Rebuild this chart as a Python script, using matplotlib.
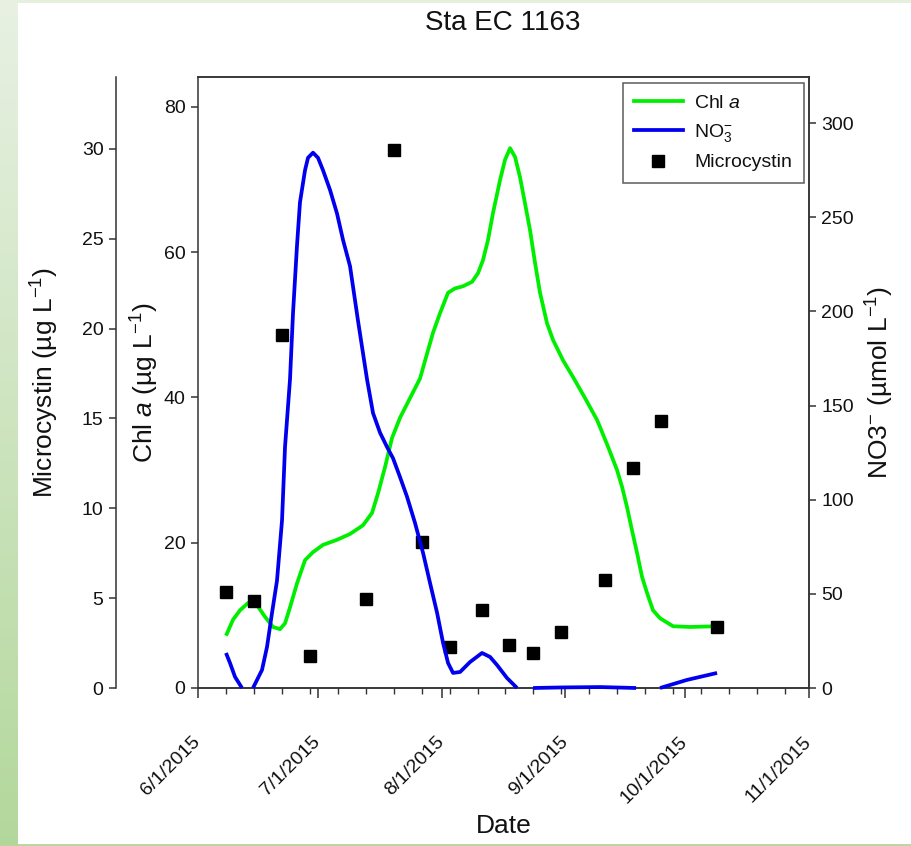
import numpy as np
import pandas as pd
import matplotlib
matplotlib.use("Agg")
import matplotlib.pyplot as plt
import matplotlib.dates as mdates
from matplotlib.patches import Rectangle
from matplotlib.lines import Line2D
from matplotlib.ticker import FuncFormatter

plt.rcParams['font.family'] = ['Liberation Sans', 'DejaVu Sans']
plt.rcParams['mathtext.fontset'] = 'custom'
plt.rcParams['mathtext.rm'] = 'Liberation Sans'
plt.rcParams['mathtext.it'] = 'Liberation Sans:italic'
plt.rcParams['mathtext.bf'] = 'Liberation Sans:bold'

# ---------------- data ----------------
season_start = "2015-06-01"

# Chl a curve (days after 6/1/2015, ug/L)
chl_day = [7.01, 8.77, 10.52, 12.52, 14.78, 16.78, 18.78, 20.54, 21.79, 23.04, 24.79,
           26.80, 28.80, 31.30, 34.81, 38.07, 41.32, 43.58, 45.08, 46.83, 48.58, 50.59,
           53.09, 55.60, 57.60, 58.85, 60.61, 62.61, 64.36, 66.37, 68.62, 70.12, 71.37,
           72.63, 73.88, 75.63, 76.88, 78.14, 79.39, 80.64, 81.89, 83.15, 84.40, 85.65,
           87.40, 88.91, 91.41, 93.91, 96.92, 99.92, 100.68, 102.68, 104.93, 106.18,
           107.43, 108.68, 109.94, 111.19, 112.44, 113.94, 115.70, 118.96, 123.22, 129.98]
chl_val = [7.2, 9.4, 10.7, 11.7, 11.4, 9.8, 8.4, 8.1, 8.9, 11.1, 14.4,
           17.6, 18.7, 19.7, 20.4, 21.2, 22.4, 24.1, 26.8, 30.4, 34.4, 37.2,
           39.9, 42.6, 46.5, 48.9, 51.6, 54.4, 55.0, 55.3, 55.9, 57.1, 58.9,
           61.7, 65.4, 69.9, 72.7, 74.3, 73.1, 70.3, 66.7, 63.0, 58.5, 54.4,
           50.2, 47.9, 45.1, 42.8, 39.9, 36.9, 35.9, 33.2, 30.0, 27.7,
           24.9, 21.7, 18.6, 15.3, 13.1, 10.7, 9.6, 8.5, 8.4, 8.5]

# NO3- curve (days after 6/1/2015, umol/L); NaN = below zero (not drawn)
no3_day = [7.01, 8.01, 9.27, 11.02, 12.40, 13.77, 16.03, 17.28, 18.53, 19.78, 21.04,
           21.79, 23.04, 23.79, 24.79, 25.54, 26.80, 27.55, 28.80, 30.05, 31.30, 33.06,
           34.81, 36.31, 38.07, 40.07, 42.32, 43.83, 45.58, 47.33, 48.84, 50.59, 52.34,
           54.35, 56.35, 58.10, 59.86, 61.36, 62.61, 63.86, 65.62, 68.12, 71.12, 73.13,
           74.88, 77.38, 79.89, 81.90, 83.90, 91.16, 100.70, 109.70, 112.70, 115.70,
           122.46, 129.98]
no3_val = [18.6, 13.3, 5.9, 0.0, np.nan, 0.0, 9.6, 21.8, 39.8, 57.0, 89.0,
           128.0, 164.0, 199.0, 235.0, 258.0, 275.0, 281.6, 284.3, 281.6, 275.0, 264.5,
           252.0, 238.0, 224.0, 195.0, 164.0, 146.0, 135.6, 128.0, 122.0, 112.0, 101.6,
           87.6, 71.8, 55.8, 40.0, 24.0, 13.3, 8.0, 8.5, 13.8, 18.6, 16.5,
           12.2, 5.3, 0.0, np.nan, 0.0, 0.3, 0.5, 0.0, np.nan, 0.0,
           4.3, 8.0]

# Microcystin samples (ug/L)
mc_date = ["2015-06-08", "2015-06-15", "2015-06-22", "2015-06-29", "2015-07-13",
           "2015-07-20", "2015-07-27", "2015-08-03", "2015-08-11", "2015-08-18",
           "2015-08-24", "2015-08-31", "2015-09-11", "2015-09-18", "2015-09-25",
           "2015-10-09"]
mc_val = [5.33, 4.83, 19.64, 1.78, 4.94, 29.94, 8.12, 2.28, 4.33, 2.39,
          1.94, 3.11, 6.01, 12.24, 14.86, 3.39]

x_ticks = ["2015-06-01", "2015-07-01", "2015-08-01", "2015-09-01", "2015-10-01", "2015-11-01"]
chl_ticks = [0, 20, 40, 60, 80]
mc_ticks = [0, 5, 10, 15, 20, 25, 30]
no3_ticks = [0, 50, 100, 150, 200, 250, 300]

# ---------------- figure ----------------
W, H = 912, 846
fig = plt.figure(figsize=(W / 100, H / 100), dpi=100, facecolor='white')

# background decorations
bg = fig.add_axes([0, 0, 18 / W, 1], zorder=-5)
grad = np.linspace(0, 1, 256)[:, None]
top_c = np.array([0.91, 0.945, 0.89])
bot_c = np.array([0.70, 0.845, 0.61])
img = (top_c[None, None, :] * (1 - grad[:, :, None]) + bot_c[None, None, :] * grad[:, :, None])
bg.imshow(img, aspect='auto', extent=[0, 1, 0, 1])
bg.axis('off')
fig.patches.append(Rectangle((18 / W, 1 - 3 / H), 1, 3 / H, transform=fig.transFigure,
                             facecolor='#e6f0dd', edgecolor='none', zorder=-5))
fig.patches.append(Rectangle((18 / W, 0), 1, 2.5 / H, transform=fig.transFigure,
                             facecolor='#b8d9a3', edgecolor='none', zorder=-5))

left, right, bottom, top = 198 / W, 809 / W, 1 - 688 / H, 1 - 77 / H
ax = fig.add_axes([left, bottom, right - left, top - bottom])
ax_mc = ax.twinx()
ax_no3 = ax.twinx()

spine_c = '#333333'
green, blue = '#00ee00', '#0000ee'
lw = 2.7
start = pd.Timestamp(season_start)
chl_x = [start + pd.Timedelta(days=d) for d in chl_day]
no3_x = [start + pd.Timedelta(days=d) for d in no3_day]
mc_x = pd.to_datetime(mc_date)

ax.plot(chl_x, chl_val, color=green, lw=lw, solid_capstyle='butt',
        solid_joinstyle='round', zorder=3)
ax_no3.plot(no3_x, no3_val, color=blue, lw=lw, solid_capstyle='butt',
            solid_joinstyle='round', clip_on=False, zorder=3)
ax_mc.plot(mc_x, mc_val, linestyle='none', marker='s', markersize=8.5, color='black', zorder=4)

# axes limits
ax.set_xlim(pd.Timestamp(x_ticks[0]), pd.Timestamp(x_ticks[-1]))
ax.set_ylim(0, 84.1)
ax_mc.set_ylim(0, 34.0)
ax_no3.set_ylim(0, 324.5)

# x axis
ax.set_xticks(pd.to_datetime(x_ticks))
ax.xaxis.set_minor_locator(mdates.WeekdayLocator(byweekday=mdates.MO))
ax.xaxis.set_major_formatter(FuncFormatter(
    lambda v, p: (lambda d: f"{d.month}/{d.day}/{d.year}")(mdates.num2date(v))))
for lab in ax.get_xticklabels():
    lab.set_rotation(45)
    lab.set_ha('right')
    lab.set_va('center')
    lab.set_rotation_mode('anchor')
ax.tick_params(axis='x', which='major', direction='out', length=7, width=1.1,
               labelsize=14, pad=30, colors=spine_c, labelcolor='#111111')
ax.tick_params(axis='x', which='minor', direction='out', length=4.5, width=1.0, colors=spine_c)

# left (Chl a) axis
ax.set_yticks(chl_ticks)
ax.tick_params(axis='y', direction='out', length=5, width=1.1, labelsize=14, pad=4,
               colors=spine_c, labelcolor='#111111')

# microcystin axis, outer left
ax_mc.yaxis.set_ticks_position('left')
ax_mc.yaxis.set_label_position('left')
ax_mc.spines['left'].set_position(('outward', 59))
ax_mc.spines['left'].set_visible(True)
ax_mc.spines['right'].set_visible(False)
ax_mc.spines['top'].set_visible(False)
ax_mc.spines['bottom'].set_visible(False)
ax_mc.set_yticks(mc_ticks)
ax_mc.tick_params(axis='y', direction='out', length=5, width=1.1, labelsize=14, pad=4,
                  colors=spine_c, labelcolor='#111111')

# NO3 axis (right)
ax_no3.set_yticks(no3_ticks)
ax_no3.tick_params(axis='y', direction='out', length=5, width=1.1, labelsize=14, pad=4,
                   colors=spine_c, labelcolor='#111111')

for a in (ax, ax_mc, ax_no3):
    for s in a.spines.values():
        s.set_color(spine_c)
        s.set_linewidth(1.1)
ax_no3.spines['left'].set_visible(False)

# labels
ax.set_ylabel(r"Chl $a$ (µg L$^{-1}$)", fontsize=19, color='#111111')
ax.yaxis.set_label_coords((145 - 198) / 611, 0.5)
ax_mc.set_ylabel(r"Microcystin (µg L$^{-1}$)", fontsize=19, color='#111111')
ax_mc.yaxis.set_label_coords((45 - 198) / 611, 0.5)
ax_no3.set_ylabel(r"NO3$^{-}$ (µmol L$^{-1}$)", fontsize=19, color='#111111', rotation=90)
ax_no3.yaxis.set_label_coords((880 - 198) / 611, 0.5)
ax_no3.yaxis.label.set_va('center')
ax.yaxis.label.set_va('center')
ax_mc.yaxis.label.set_va('center')

ax.set_xlabel("Date", fontsize=19, color='#111111')
ax.xaxis.set_label_coords(0.5, (688 - 826) / 611)
ax.xaxis.label.set_va('center')

fig.text((503) / W, 1 - 30 / H, "Sta EC 1163", ha='center', va='baseline',
         fontsize=20, color='#111111')

# legend
handles = [Line2D([], [], color=green, lw=lw),
           Line2D([], [], color=blue, lw=lw),
           Line2D([], [], linestyle='none', marker='s', markersize=8.5, color='black')]
labels = [r"Chl $a$", r"NO$_3^{-}$", "Microcystin"]
leg = ax_no3.legend(handles, labels, loc='upper right',
                    bbox_to_anchor=((804 - 198) / 611, (688 - 83) / 611),
                    borderaxespad=0, frameon=True, fancybox=False, fontsize=14,
                    handlelength=2.5, handletextpad=0.6, labelspacing=0.5, borderpad=0.6)
leg.get_frame().set_edgecolor('#333333')
leg.get_frame().set_linewidth(1.1)
for t in leg.get_texts():
    t.set_color('#111111')

fig.savefig("out.png", dpi=100, facecolor='white')
